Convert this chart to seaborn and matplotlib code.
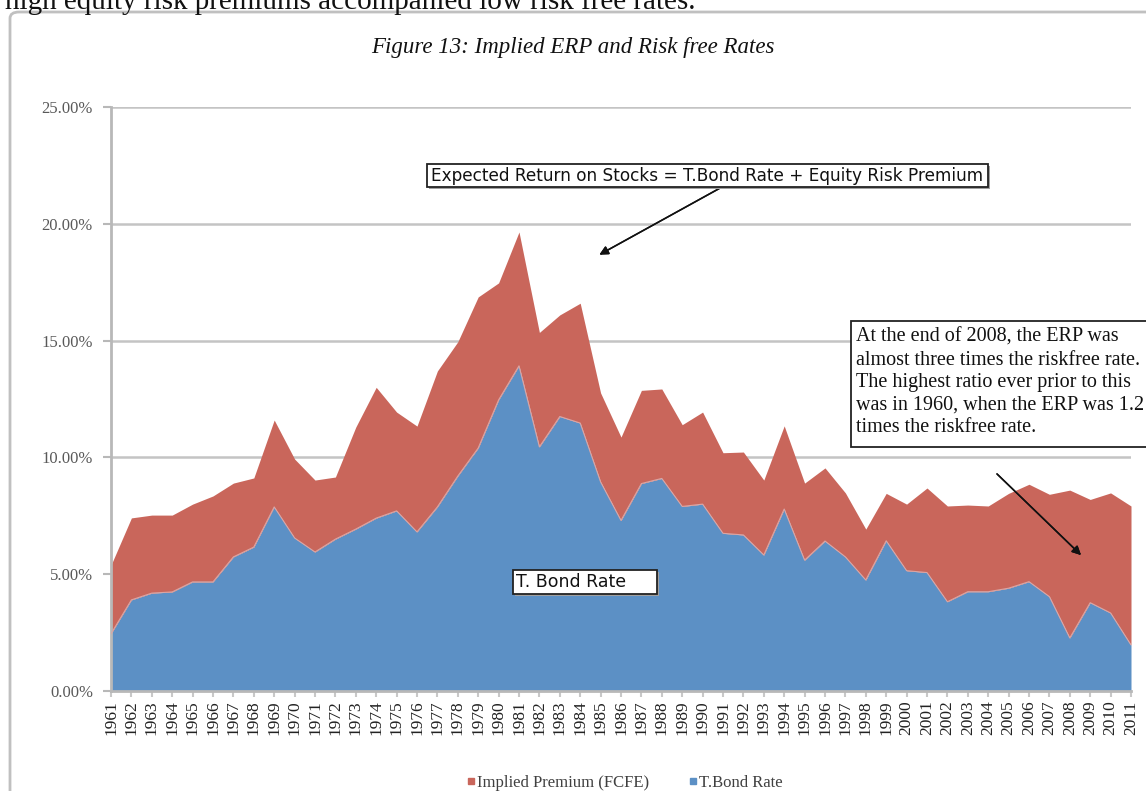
import pandas as pd
import seaborn as sns
import matplotlib
matplotlib.use('Agg')
import matplotlib.pyplot as plt
from matplotlib.patches import FancyBboxPatch, Rectangle
from matplotlib.lines import Line2D
from matplotlib.ticker import FuncFormatter, FixedLocator

# values (percent)
years = list(range(1961, 2012))
tbond_rate = [2.45, 3.90, 4.19, 4.24, 4.67, 4.67, 5.74, 6.16, 7.88, 6.55,
              5.95, 6.50, 6.93, 7.40, 7.71, 6.81, 7.88, 9.20, 10.40, 12.46,
              13.92, 10.45, 11.75, 11.47, 8.95, 7.30, 8.88, 9.10, 7.90, 8.00,
              6.75, 6.68, 5.82, 7.79, 5.60, 6.42, 5.74, 4.75, 6.43, 5.15,
              5.07, 3.82, 4.25, 4.25, 4.40, 4.68, 4.04, 2.27, 3.78, 3.34, 1.97]
implied_premium = [2.94, 3.51, 3.34, 3.29, 3.33, 3.68, 3.16, 2.96, 3.72, 3.38,
                   3.08, 2.66, 4.37, 5.60, 4.23, 4.53, 5.82, 5.75, 6.47, 5.01,
                   5.73, 4.90, 4.35, 5.13, 3.81, 3.57, 3.99, 3.83, 3.50, 3.94,
                   3.45, 3.55, 3.21, 3.56, 3.30, 3.13, 2.74, 2.18, 2.03, 2.85,
                   3.62, 4.10, 3.71, 3.67, 4.06, 4.17, 4.38, 6.33, 4.42, 5.14, 5.95]
y_ticks = [0, 5, 10, 15, 20, 25]
series_names = ["Implied Premium (FCFE)", "T.Bond Rate"]

title = "Figure 13: Implied ERP and Risk free Rates"
page_text = "high equity risk premiums accompanied low risk free rates."
formula_note = "Expected Return on Stocks = T.Bond Rate + Equity Risk Premium"
ratio_note = ("At the end of 2008, the ERP was\n"
              "almost three times the riskfree rate.\n"
              "The highest ratio ever prior to this\n"
              "was in 1960, when the ERP was 1.2\n"
              "times the riskfree rate.")
bond_note = "T. Bond Rate"

df = pd.DataFrame({"Year": years, "T.Bond Rate": tbond_rate,
                   "Implied Premium (FCFE)": implied_premium})
df["Total"] = df["T.Bond Rate"] + df["Implied Premium (FCFE)"]

RED = "#C9665B"
BLUE = "#5C90C5"
GRID = "#c4c4c4"

sns.set_theme(style="white", rc={
    "axes.edgecolor": "#b8b8b8",
    "axes.linewidth": 2.0,
    "figure.facecolor": "white",
    "axes.facecolor": "white",
})
plt.rcParams['font.family'] = ['Liberation Serif', 'DejaVu Serif']

W, H = 1146, 791
fig = plt.figure(figsize=(W / 100, H / 100), dpi=100)


def px(x, y):
    return x / W, 1 - y / H


ax = fig.add_axes([111 / W, 1 - 691 / H, 1020 / W, 584 / H])

ax.fill_between(df["Year"], 0, df["T.Bond Rate"], color=BLUE, lw=0, zorder=2)
ax.fill_between(df["Year"], df["T.Bond Rate"], df["Total"], color=RED, lw=0, zorder=2)
sns.lineplot(data=df, x="Year", y="T.Bond Rate", color="#d9a6a6", lw=0.8,
             ax=ax, zorder=3)

ax.set_xlim(1961, 2011)
ax.set_ylim(0, 25)
ax.set_xlabel("")
ax.set_ylabel("")

ax.yaxis.set_major_locator(FixedLocator(y_ticks))
ax.yaxis.set_major_formatter(FuncFormatter(lambda v, p: f"{v:.2f}%"))
ax.yaxis.grid(True, color=GRID, lw=1.8)
ax.set_axisbelow(True)

ax.set_xticks(years)
ax.set_xticklabels([str(y) for y in years], rotation=90, va="top")

ax.tick_params(axis="y", left=True, length=6, width=1.5, color="#b8b8b8",
               labelsize=12, labelcolor="#595959", pad=7)
ax.tick_params(axis="x", bottom=True, length=4, width=1.5, color="#c8c8c8",
               labelsize=12.5, labelcolor="#222222", pad=3)

for side in ["top", "right"]:
    ax.spines[side].set_visible(False)

# outer chart frame (runs off the page on the right and bottom)
frame = FancyBboxPatch(px(10, 900), 1.2, (900 - 12) / H,
                       boxstyle="round,pad=0,rounding_size=0.008",
                       transform=fig.transFigure, fc="none", ec="#c0c0c0", lw=2)
fig.add_artist(frame)

fig.text(*px(5, 9), page_text, fontsize=21, ha="left", va="baseline", color="#111111")
fig.text(*px(573, 48), title, fontsize=16.5, style="italic", ha="center",
         va="center", color="#111111")


def note_box(x0, y0, x1, y1, shadow=True):
    if shadow:
        fig.add_artist(Rectangle(px(x0 + 2, y1 + 2), (x1 - x0) / W, (y1 - y0) / H,
                                 transform=fig.transFigure, fc="#a0a0a0",
                                 ec="none", zorder=5))
    fig.add_artist(Rectangle(px(x0, y1), (x1 - x0) / W, (y1 - y0) / H,
                             transform=fig.transFigure, fc="white", ec="#222222",
                             lw=1.3, zorder=6))


note_box(427, 164, 988, 187)
fig.text(*px(431, 176), formula_note, family="DejaVu Sans", fontsize=12.2,
         ha="left", va="center", color="#111111", zorder=7)

note_box(851, 321, 1180, 447, shadow=False)
fig.text(*px(856, 328), ratio_note, fontsize=14.5, ha="left", va="top",
         linespacing=1.25, color="#111111", zorder=7)

note_box(513, 570, 657, 594)
fig.text(*px(516, 582), bond_note, family="DejaVu Sans", fontsize=12.5,
         ha="left", va="center", color="#111111", zorder=7)

arrow = dict(arrowstyle="-|>", color="#111111", lw=1.1, mutation_scale=13)
fig.add_artist(plt.annotate("", xy=px(597, 256), xytext=px(722, 187),
                            xycoords="figure fraction", arrowprops=arrow))
fig.add_artist(plt.annotate("", xy=px(1083, 557), xytext=px(995, 472),
                            xycoords="figure fraction", arrowprops=arrow))

handles = [Line2D([], [], marker="s", ls="none", color=RED, markersize=5, label=series_names[0]),
           Line2D([], [], marker="s", ls="none", color=BLUE, markersize=5, label=series_names[1])]
leg = fig.legend(handles=handles, loc="center", bbox_to_anchor=px(625, 783), ncol=2,
                 frameon=False, fontsize=12, handlelength=0.5, handletextpad=0.1,
                 columnspacing=2.4, borderpad=0)
for t in leg.get_texts():
    t.set_color("#404040")

fig.savefig("out.png", dpi=100, facecolor="white")
